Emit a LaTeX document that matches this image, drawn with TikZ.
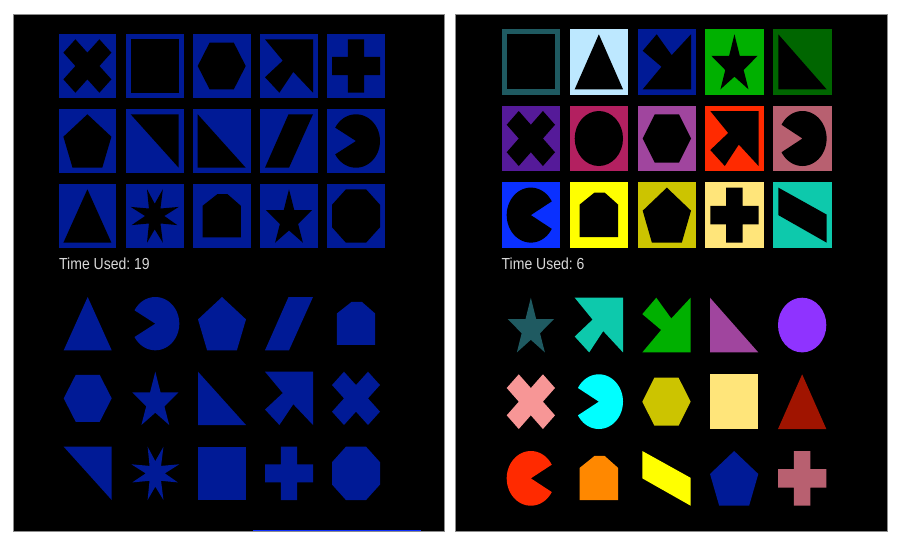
\documentclass[tikz,border=0pt]{standalone}
\usepackage{fontspec}
\setmainfont{Liberation Sans}
\frenchspacing
\definecolor{cBlue}{HTML}{001A96}
\definecolor{cSlate}{HTML}{1F5A61}
\definecolor{cSky}{HTML}{BDE8FF}
\definecolor{cGreen}{HTML}{00B000}
\definecolor{cDkGreen}{HTML}{006600}
\definecolor{cPurple}{HTML}{551A99}
\definecolor{cCrimson}{HTML}{B32060}
\definecolor{cOrchid}{HTML}{A0459E}
\definecolor{cRed}{HTML}{FF2A00}
\definecolor{cRose}{HTML}{B86070}
\definecolor{cBright}{HTML}{0A30FF}
\definecolor{cYellow}{HTML}{FFFF00}
\definecolor{cOlive}{HTML}{CCC400}
\definecolor{cLemon}{HTML}{FFE57A}
\definecolor{cTeal}{HTML}{0DC9AC}
\definecolor{cViolet}{HTML}{8F33FF}
\definecolor{cPink}{HTML}{F79696}
\definecolor{cCyan}{HTML}{00FFFF}
\definecolor{cDkRed}{HTML}{A01400}
\definecolor{cOrange}{HTML}{FF8800}
\definecolor{cText}{HTML}{D8D8D8}
\definecolor{cLine}{HTML}{1030FF}
% glyph outlines in a unit box, origin top left, y pointing down
\def\shcross{(.25,0)--(.5,.25)--(.75,0)--(1,.25)--(.75,.5)--(1,.75)--(.75,1)--(.5,.75)--(.25,1)--(0,.75)--(.25,.5)--(0,.25)--cycle}
\def\shsquare{(0,0)--(1,0)--(1,1)--(0,1)--cycle}
\def\shhex{(0,.5)--(.25,.06)--(.75,.06)--(1,.5)--(.75,.94)--(.25,.94)--cycle}
\def\sharrowNE{(0,0)--(1,0)--(1,1)--(.59,.61)--(.3,1)--(0,.71)--(.37,.4)--cycle}
\def\sharrowSE{(1,0)--(1,1)--(0,1)--(.39,.59)--(0,.3)--(.29,0)--(.6,.38)--cycle}
\def\shplus{(.33,0)--(.67,0)--(.67,.33)--(1,.33)--(1,.67)--(.67,.67)--(.67,1)--(.33,1)--(.33,.67)--(0,.67)--(0,.33)--(.33,.33)--cycle}
\def\shpent{(.5,0)--(1,.42)--(.81,1)--(.19,1)--(0,.42)--cycle}
\def\shtriNE{(0,0)--(1,0)--(1,1)--cycle}
\def\shtriSW{(0,0)--(1,1)--(0,1)--cycle}
\def\shpar{(.49,0)--(1,0)--(.5,1)--(0,1)--cycle}
\def\shparB{(0,0)--(1,.49)--(1,1)--(0,.5)--cycle}
\def\shpacL{(.5,.5)--plot[domain=-150:150,samples=61]({.5+.5*cos(\x)},{.5+.5*sin(\x)})--cycle}
\def\shpacR{(.5,.5)--plot[domain=-150:150,samples=61]({.5-.5*cos(\x)},{.5+.5*sin(\x)})--cycle}
\def\shtri{(.5,0)--(1,1)--(0,1)--cycle}
\def\shstareight{(.34,0)--(.5,.27)--(.67,0)--(.62,.36)--(1,.33)--(.7,.5)--(.97,.67)--(.62,.64)--(.67,1)--(.5,.75)--(.34,1)--(.38,.64)--(.02,.67)--(.3,.5)--(0,.33)--(.38,.36)--cycle}
\def\shstarfive{(.5,0)--(.61,.39)--(.98,.39)--(.69,.65)--(.79,1)--(.5,.77)--(.21,1)--(.31,.65)--(.02,.39)--(.39,.39)--cycle}
\def\shhouse{(.1,.31)--(.41,.09)--(.62,.09)--(.9,.31)--(.9,.9)--(.1,.9)--cycle}
\def\shoct{(.29,0)--(.71,0)--(1,.29)--(1,.71)--(.71,1)--(.29,1)--(0,.71)--(0,.29)--cycle}
\def\shcircle{(.5,.5) circle[x radius=.5,y radius=.5]}
% #1 shape, #2 x, #3 y, #4 w, #5 h, #6 colour
\newcommand\glyph[6]{\fill[#6,shift={(#2pt,-#3pt)},x=#4pt,y=-#5pt] \csname sh#1\endcsname;}
\newcommand\timetext[1]{\scalebox{.875}[1]{\fontsize{16}{18}\selectfont #1}}
\tikzset{panelbox/.style={fill=black,draw=black!45,line width=.3pt},
 timelabel/.style={text=cText,anchor=base west,inner sep=0pt}}
\begin{document}
\begin{tikzpicture}[x=1pt,y=-1pt]
\useasboundingbox[fill=white] (0,0) rectangle (902,544);
\fill[panelbox] (13,14) rectangle (444.5,531);
\fill[panelbox] (455,14) rectangle (887,531);
% left tiles
\foreach \sx/\sy/\sn in {58.7/34/cross,126/34/square,193/34/hex,260.3/34/arrowNE,327.3/34/plus,
 58.7/109/pent,126/109/triNE,193/109/triSW,260.3/109/par,327.3/109/pacL,
 58.7/184/tri,126/184/stareight,193/184/house,260.3/184/starfive,327.3/184/oct}{
 \fill[cBlue] (\sx,\sy) rectangle ++(57.5,64);
 \pgfmathsetmacro\gx{\sx+4.7}\pgfmathsetmacro\gy{\sy+5.3}
 \glyph{\sn}{\gx}{\gy}{48}{53.4}{black}
}
% right tiles
\foreach \sx/\sy/\sn/\sc in {501.7/29/square/cSlate,569.7/29/tri/cSky,637.7/29/arrowSE/cBlue,705.3/29/starfive/cGreen,773.3/29/triSW/cDkGreen,
 501.7/105.7/cross/cPurple,569.7/105.7/circle/cCrimson,637.7/105.7/hex/cOrchid,705.3/105.7/arrowNE/cRed,773.3/105.7/pacL/cRose,
 501.7/182.3/pacR/cBright,569.7/182.3/house/cYellow,637.7/182.3/pent/cOlive,705.3/182.3/plus/cLemon,773.3/182.3/parB/cTeal}{
 \fill[\sc] (\sx,\sy) rectangle ++(58.3,65.7);
 \pgfmathsetmacro\gx{\sx+5}\pgfmathsetmacro\gy{\sy+5.3}
 \glyph{\sn}{\gx}{\gy}{48.3}{55}{black}
}
\node[timelabel] (timeL) at (59,269.5) {\timetext{Time Used: 19}};
\node[timelabel] (timeR) at (501.5,269.5) {\timetext{Time Used: 6}};
% left loose shapes
\foreach \sx/\sy/\sn in {63.7/297/tri,131.3/297/pacL,198/297/pent,265/297/par,332/297/house,
 63.7/371.7/hex,131.3/371.7/starfive,198/371.7/triSW,265/371.7/arrowNE,332/371.7/cross,
 63.7/446.7/triNE,131.3/446.7/stareight,198/446.7/square,265/446.7/plus,332/446.7/oct}{
 \glyph{\sn}{\sx}{\sy}{48}{53.3}{cBlue}
}
% right loose shapes
\foreach \sx/\sy/\sn/\sc in {506.7/297.7/starfive/cSlate,574.7/297.7/arrowNE/cTeal,642.3/297.7/arrowSE/cGreen,710/297.7/triSW/cOrchid,778/297.7/circle/cViolet,
 506.7/374.3/cross/cPink,574.7/374.3/pacL/cCyan,642.3/374.3/hex/cOlive,710/374.3/square/cLemon,778/374.3/tri/cDkRed,
 506.7/451/pacR/cRed,574.7/451/house/cOrange,642.3/451/parB/cYellow,710/451/pent/cBlue,778/451/plus/cRose}{
 \glyph{\sn}{\sx}{\sy}{48.3}{54.7}{\sc}
}
\fill[cLine] (253,529.8) rectangle (420.7,531);
\end{tikzpicture}
\end{document}
